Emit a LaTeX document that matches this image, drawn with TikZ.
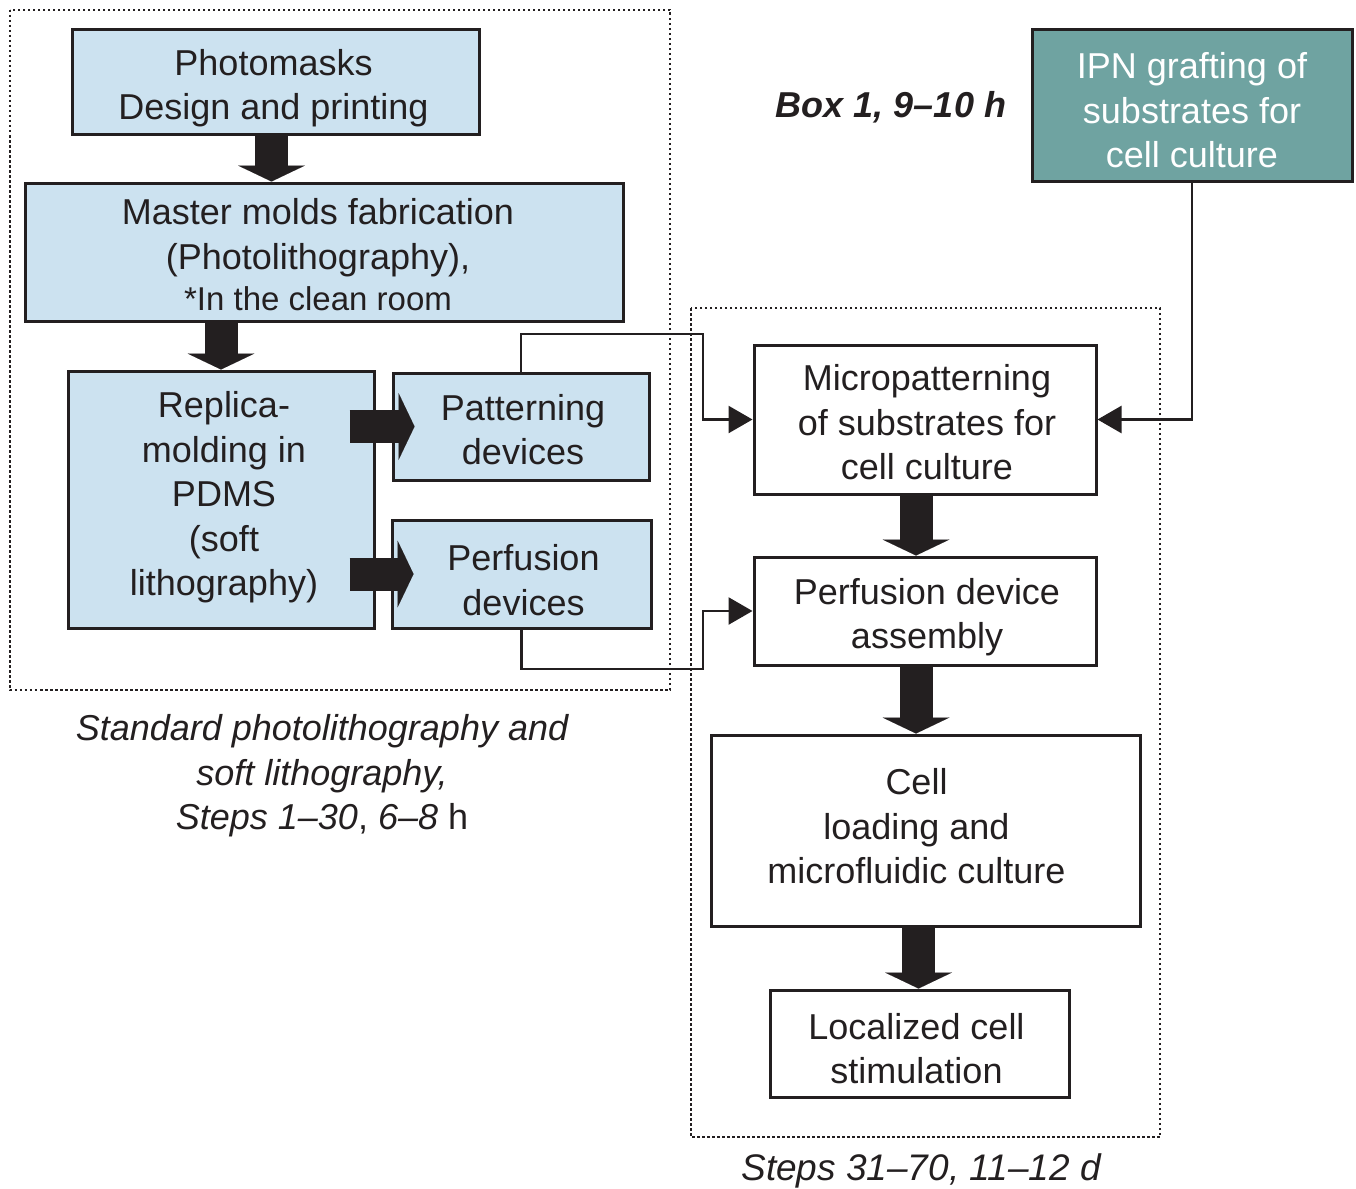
\documentclass[tikz,border=0pt]{standalone}
\usepackage{fontspec}
\setmainfont{Liberation Sans}
\usetikzlibrary{arrows.meta}
\definecolor{lblue}{RGB}{204,226,240}
\definecolor{tealbox}{RGB}{111,163,161}
\definecolor{ink}{RGB}{35,31,32}
\tikzset{
  box/.style={draw=ink, line width=3pt, rectangle, inner sep=0pt},
  bluebox/.style={box, fill=lblue},
  boxtext/.style={align=center, inner sep=0pt, font=\fontsize{36}{44.5}\selectfont, text=ink},
  conn/.style={draw=ink, line width=2.5pt, -{Triangle[length=24pt,width=27pt]}},
  blockarrow/.style={draw=ink, line width=33pt, -{Triangle[length=16pt,width=67pt,line width=0.01pt]}},
  dotframe/.style={draw=ink, line width=2.5pt, dash pattern=on 2.5pt off 2.5pt},
}
\begin{document}
\begin{tikzpicture}[x=1pt,y=-1pt]
\useasboundingbox (0,0) rectangle (1356,1188);
% frames
\draw[dotframe] (10,10) rectangle (670,690);
\draw[dotframe] (691,308) rectangle (1160,1137);
% left boxes
\node[bluebox, minimum width=407pt, minimum height=104pt] (pm) at (275.5,82) {};
\node[boxtext] (pm-t) at ([yshift=-6pt,xshift=-2pt]pm.center) {Photomasks\\Design and printing};
\node[bluebox, minimum width=598pt, minimum height=138pt] (mm) at (324,252) {};
\node[boxtext] (mm-t) at ([yshift=-3pt,xshift=-6pt]mm.center)
  {Master molds fabrication\\(Photolithography),\\[-3pt]{\fontsize{33}{40}\selectfont *In the clean room}};
\node[bluebox, minimum width=306pt, minimum height=257pt] (rep) at (221,499.5) {};
\node[boxtext] (rep-t) at ([yshift=2pt,xshift=3pt]rep.center)
  {Replica-\\molding in\\PDMS\\(soft\\lithography)};
\node[bluebox, minimum width=256pt, minimum height=107pt] (pat) at (521,426.5) {};
\node[boxtext] (pat-t) at ([yshift=-3pt,xshift=2pt]pat.center) {Patterning\\devices};
\node[bluebox, minimum width=259pt, minimum height=108pt] (pdev) at (521.5,574) {};
\node[boxtext] (pdev-t) at ([yshift=-6pt,xshift=2pt]pdev.center) {Perfusion\\devices};
% right boxes
\node[box, fill=tealbox, minimum width=320pt, minimum height=151pt] (ipn) at (1192,105.5) {};
\node[boxtext, text=white] (ipn-t) at ([yshift=-5pt]ipn.center) {IPN grafting of\\substrates for\\cell culture};
\node[box, minimum width=342pt, minimum height=149pt] (mic) at (925,419.5) {};
\node[boxtext] (mic-t) at ([yshift=-3pt,xshift=2pt]mic.center) {Micropatterning\\of substrates for\\cell culture};
\node[box, minimum width=342pt, minimum height=108pt] (asm) at (925,611) {};
\node[boxtext] (asm-t) at ([yshift=-6pt,xshift=2pt]asm.center) {Perfusion device\\assembly};
\node[box, minimum width=429pt, minimum height=191pt] (cell) at (925.5,830.5) {};
\node[boxtext] (cell-t) at ([yshift=4pt,xshift=-9pt]cell.center) {Cell\\loading and\\microfluidic culture};
\node[box, minimum width=299pt, minimum height=107pt] (loc) at (919.5,1043.5) {};
\node[boxtext] (loc-t) at ([yshift=-5pt,xshift=-3pt]loc.center) {Localized cell\\stimulation};
% captions
\node[boxtext, font=\fontsize{36}{44.5}\selectfont\bfseries\itshape] (box1) at (891,107) {Box 1, 9–10 h};
\node[boxtext] (capl) at (322,776)
  {\itshape Standard photolithography and\\\itshape soft lithography,\\{\itshape Steps 1–30}, {\itshape 6–8} h};
\node[boxtext, font=\fontsize{37}{44.5}\selectfont] (capr) at (921,1171) {\itshape Steps 31–70, 11–12 d};
% connectors
\coordinate (j1) at (703,334);
\coordinate (j2) at (703,669);
\draw[conn] (pat.north) |- (j1) |- (mic.west);
\draw[conn] (pdev.south) |- (j2) |- (asm.west);
\draw[conn] (ipn.south) |- (mic.east);
% block arrows
\draw[blockarrow] ([xshift=-4pt]pm.south) -- ([xshift=-4pt]pm.south |- mm.north);
\draw[blockarrow] (mm.south -| rep.north) -- (rep.north);
\draw[blockarrow] ([xshift=-26pt]rep.east |- pat.west) -- ([xshift=23pt]pat.west);
\draw[blockarrow] ([xshift=-26pt]rep.east |- pdev.west) -- ([xshift=23pt]pdev.west);
\draw[blockarrow] ([xshift=-9pt]mic.south) -- ([xshift=-9pt]mic.south |- asm.north);
\draw[blockarrow] ([xshift=-9pt]asm.south) -- ([xshift=-9pt]asm.south |- cell.north);
\draw[blockarrow] ([xshift=-7pt]cell.south) -- ([xshift=-7pt]cell.south |- loc.north);
\end{tikzpicture}
\end{document}
